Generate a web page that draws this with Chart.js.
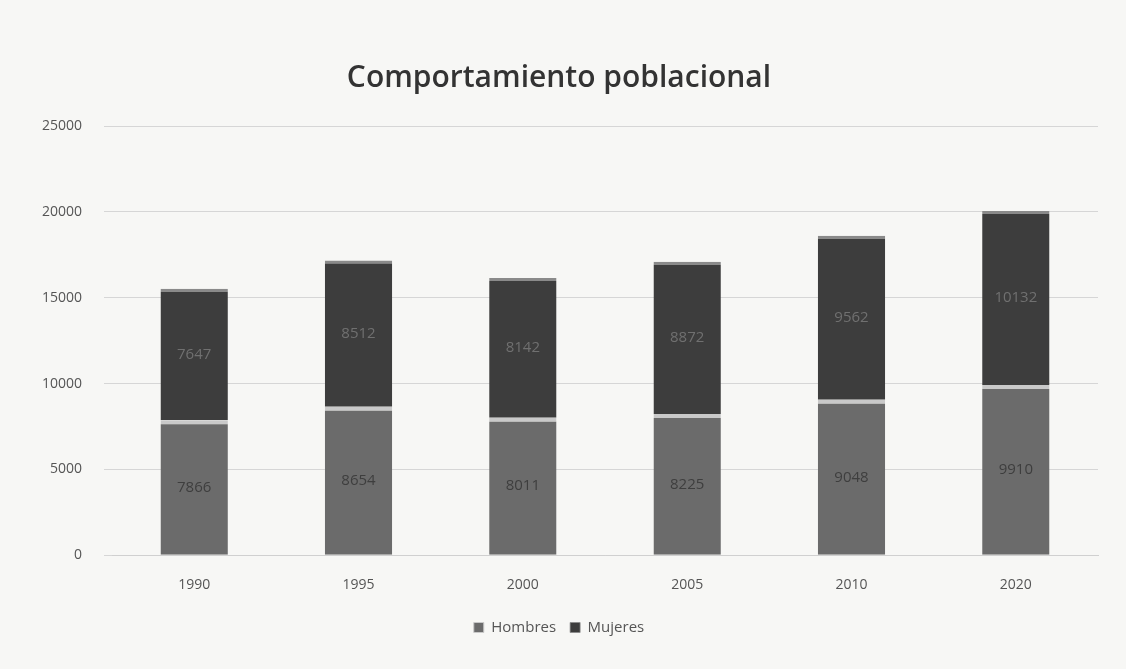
<!DOCTYPE html>
<html>
<head>
<meta charset="utf-8">
<script src="https://cdn.jsdelivr.net/npm/chart.js@4"></script>
<style>
  html, body { margin: 0; padding: 0; background: #f7f7f5; }
  #wrap { width: 1126px; height: 669px; }
</style>
</head>
<body>
<div id="wrap"><canvas id="chart"></canvas></div>
<script>
// datos del gráfico
const years = ['1990', '1995', '2000', '2005', '2010', '2020'];
const hombres = [7866, 8654, 8011, 8225, 9048, 9910];
const mujeres = [7647, 8512, 8142, 8872, 9562, 10132];
const yTicks = [0, 5000, 10000, 15000, 20000, 25000];
const labelColors = ['#3e3e3e', '#707070'];

// etiquetas de valor en el centro de cada barra
const valueLabels = {
  id: 'valueLabels',
  afterDatasetsDraw(chart) {
    const ctx = chart.ctx;
    ctx.save();
    ctx.font = '15px "Open Sans"';
    ctx.textAlign = 'center';
    ctx.textBaseline = 'middle';
    chart.data.datasets.forEach((ds, i) => {
      ctx.fillStyle = labelColors[i];
      chart.getDatasetMeta(i).data.forEach((bar, j) => {
        ctx.fillText(ds.data[j], bar.x, (bar.y + bar.base) / 2);
      });
    });
    ctx.restore();
  },
};

new Chart(document.getElementById('chart'), {
  type: 'bar',
  data: {
    labels: years,
    datasets: [
      { label: 'Hombres', data: hombres, backgroundColor: '#6b6b6b', borderColor: '#c9c9c9', borderWidth: { top: 4 }, borderSkipped: 'bottom' },
      { label: 'Mujeres', data: mujeres, backgroundColor: '#3d3d3d', borderColor: '#8a8a8a', borderWidth: { top: 3 }, borderSkipped: 'bottom' },
    ],
  },
  options: {
    responsive: true,
    maintainAspectRatio: false,
    animation: false,
    layout: { padding: { left: 20, right: 28, top: 60, bottom: 24 } },
    datasets: { bar: { categoryPercentage: 0.5, barPercentage: 0.82 } },
    scales: {
      x: {
        stacked: true,
        grid: { display: false },
        border: { color: '#d0d0d0' },
        ticks: { color: '#555', font: { family: 'Open Sans', size: 14 }, padding: 13 },
      },
      y: {
        stacked: true,
        min: 0,
        max: 25000,
        afterBuildTicks: (axis) => { axis.ticks = yTicks.map(v => ({ value: v })); },
        grid: { color: '#d6d6d6' },
        border: { display: false },
        ticks: { color: '#555', font: { family: 'Open Sans', size: 14 }, padding: 22, callback: (v) => String(v) },
      },
    },
    plugins: {
      title: {
        display: true,
        text: 'Comportamiento poblacional',
        color: '#333',
        font: { family: 'Open Sans', size: 30, weight: '600' },
        padding: { top: 0, bottom: 30 },
      },
      legend: {
        position: 'bottom',
        labels: { boxWidth: 10, boxHeight: 10, color: '#555', font: { family: 'Open Sans', size: 15 }, padding: 14 },
      },
      tooltip: { enabled: false },
    },
  },
  plugins: [valueLabels],
});
</script>
</body>
</html>
